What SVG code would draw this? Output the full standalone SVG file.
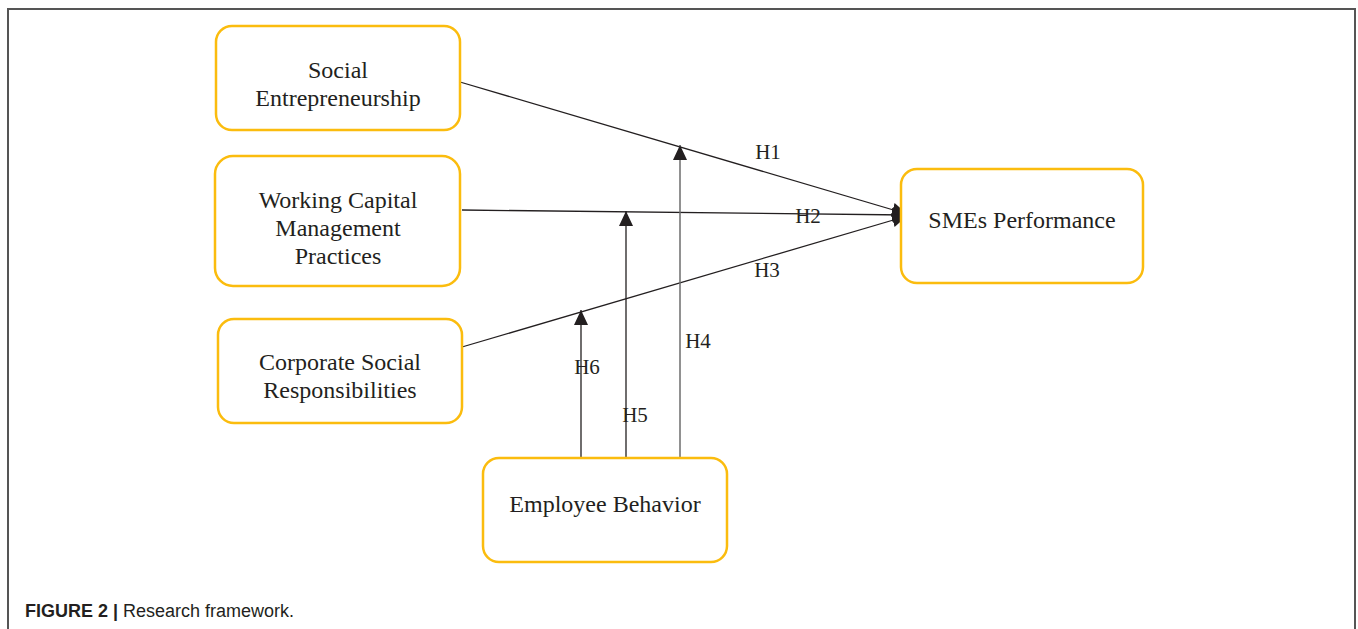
<svg xmlns="http://www.w3.org/2000/svg" width="1358" height="629" viewBox="0 0 1358 629">
<style>
.box{fill:#fff;stroke:#fbbc0e;stroke-width:2.5}
.t{font-family:"Liberation Serif","Times New Roman",serif;font-size:24px;fill:#231f20;text-anchor:middle}
.h{font-family:"Liberation Serif","Times New Roman",serif;font-size:21px;fill:#231f20;text-anchor:middle}
.c{stroke:#231f20;stroke-width:1.3;fill:none}
.g{stroke:#6d6d6d;stroke-width:1.5;fill:none}
.cap{font-family:"Liberation Sans",Arial,sans-serif;font-size:18px;fill:#231f20}
</style>
<defs>
<marker id="ah" markerUnits="userSpaceOnUse" markerWidth="16" markerHeight="14" refX="15" refY="7" orient="auto">
<path d="M0,0 L15,7 L0,14 Z" fill="#231f20"/>
</marker>
</defs>
<rect width="1358" height="629" fill="#fff"/>
<path d="M8,629 V9 H1355 V629" fill="none" stroke="#555" stroke-width="2"/>
<g id="connectors">
<line class="c" x1="460" y1="82" x2="907" y2="214" marker-end="url(#ah)"/>
<line class="c" x1="462" y1="210" x2="907" y2="215" marker-end="url(#ah)"/>
<line class="c" x1="462" y1="347" x2="907" y2="216" marker-end="url(#ah)"/>
<line class="g" x1="680" y1="462" x2="680" y2="145" marker-end="url(#ah)"/>
<line class="c" x1="626" y1="459" x2="626" y2="211" marker-end="url(#ah)"/>
<line class="c" x1="581" y1="462" x2="581" y2="310" marker-end="url(#ah)"/>
<text class="h" x="768" y="159">H1</text>
<text class="h" x="808" y="223">H2</text>
<text class="h" x="767" y="277">H3</text>
<text class="h" x="698" y="348">H4</text>
<text class="h" x="635" y="422">H5</text>
<text class="h" x="587" y="374">H6</text>
</g>
<g id="social-entrepreneurship">
<rect class="box" x="216" y="26" width="244" height="104" rx="16"/>
<text class="t" x="338" y="78">Social</text>
<text class="t" x="338" y="106">Entrepreneurship</text>
</g>
<g id="working-capital">
<rect class="box" x="215" y="156" width="245" height="130" rx="18"/>
<text class="t" x="338" y="208">Working Capital</text>
<text class="t" x="338" y="236">Management</text>
<text class="t" x="338" y="264">Practices</text>
</g>
<g id="csr">
<rect class="box" x="218" y="319" width="244" height="104" rx="16"/>
<text class="t" x="340" y="370">Corporate Social</text>
<text class="t" x="340" y="398">Responsibilities</text>
</g>
<g id="employee-behavior">
<rect class="box" x="483" y="458" width="244" height="104" rx="16"/>
<text class="t" x="605" y="512">Employee Behavior</text>
</g>
<g id="smes-performance">
<rect class="box" x="901" y="169" width="242" height="114" rx="16"/>
<text class="t" x="1022" y="228">SMEs Performance</text>
</g>
<text class="cap" x="25" y="617"><tspan font-weight="bold">FIGURE 2 |</tspan> Research framework.</text>
</svg>
